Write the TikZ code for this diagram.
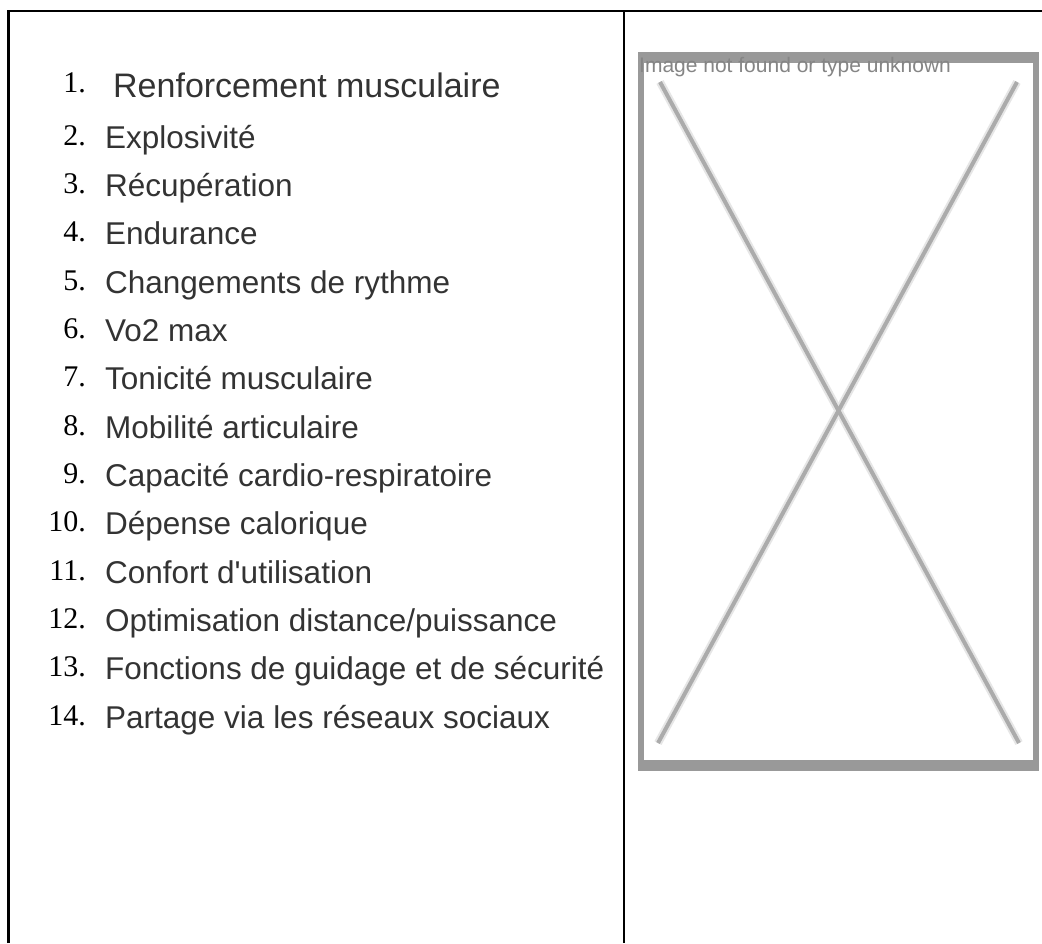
\documentclass[tikz,border=0pt]{standalone}
\usepackage{fontspec}
\setmainfont{Liberation Serif}
\newfontfamily\arialfont{Liberation Sans}
\usepackage{tikz}
\usepackage{xcolor}

\definecolor{itemgray}{HTML}{333333}
\definecolor{framegray}{HTML}{999999}
\definecolor{crossgray}{HTML}{ABABAB}
\definecolor{haloagray}{HTML}{E6E6E6}
\definecolor{notegray}{HTML}{858585}

\tikzset{
  numlabel/.style={anchor=base east, inner sep=0pt, font=\fontsize{30}{30}\selectfont},
  itemlabel/.style={anchor=base west, inner sep=0pt, text=itemgray, font=\arialfont\fontsize{31.5}{31.5}\selectfont},
  rule/.style={line width=2.5pt, black}
}

\begin{document}
\begin{tikzpicture}[x=1pt,y=-1pt]
\useasboundingbox (0,0) rectangle (1042,943);

% Table rules
\draw[rule] (8.5,943) -- (8.5,11) -- (1042,11);
\draw[rule] (624,11) -- (624,943);

% List of training goals
\node[numlabel] (num1) at (86,92) {1.};
\node[itemlabel, font=\arialfont\fontsize{34}{34}\selectfont] (item1) at (113,97) {Renforcement musculaire};
\node[numlabel] (num2) at (86,145) {2.};
\node[itemlabel] (item2) at (105,148) {Explosivité};
\node[numlabel] (num3) at (86,193) {3.};
\node[itemlabel] (item3) at (105,196) {Récupération};
\node[numlabel] (num4) at (86,241) {4.};
\node[itemlabel] (item4) at (105,244) {Endurance};
\node[numlabel] (num5) at (86,290) {5.};
\node[itemlabel] (item5) at (105,293) {Changements de rythme};
\node[numlabel] (num6) at (86,338) {6.};
\node[itemlabel] (item6) at (105,341) {Vo2 max};
\node[numlabel] (num7) at (86,386) {7.};
\node[itemlabel] (item7) at (105,389) {Tonicité musculaire};
\node[numlabel] (num8) at (86,435) {8.};
\node[itemlabel] (item8) at (105,438) {Mobilité articulaire};
\node[numlabel] (num9) at (86,483) {9.};
\node[itemlabel] (item9) at (105,486) {Capacité cardio-respiratoire};
\node[numlabel] (num10) at (86,531) {10.};
\node[itemlabel] (item10) at (105,534) {Dépense calorique};
\node[numlabel] (num11) at (86,580) {11.};
\node[itemlabel] (item11) at (105,583) {Confort d'utilisation};
\node[numlabel] (num12) at (86,628) {12.};
\node[itemlabel] (item12) at (105,631) {Optimisation distance/puissance};
\node[numlabel] (num13) at (86,676) {13.};
\node[itemlabel] (item13) at (105,679) {Fonctions de guidage et de sécurité};
\node[numlabel] (num14) at (86,725) {14.};
\node[itemlabel] (item14) at (105,728) {Partage via les réseaux sociaux};

% Missing image placeholder
\fill[framegray] (638,52) rectangle (1039,771);
\fill[white] (644,63) rectangle (1033,760);
\draw[haloagray, line width=8pt] (660,82) -- (1019,743);
\draw[haloagray, line width=8pt] (1017,82) -- (658,743);
\draw[crossgray, line width=4pt] (660,82) -- (1019,743);
\draw[crossgray, line width=4pt] (1017,82) -- (658,743);
\node[anchor=base west, inner sep=0pt, text=notegray, font=\arialfont\fontsize{21}{21}\selectfont] (note) at (639,72) {Image not found or type unknown};
\end{tikzpicture}
\end{document}
